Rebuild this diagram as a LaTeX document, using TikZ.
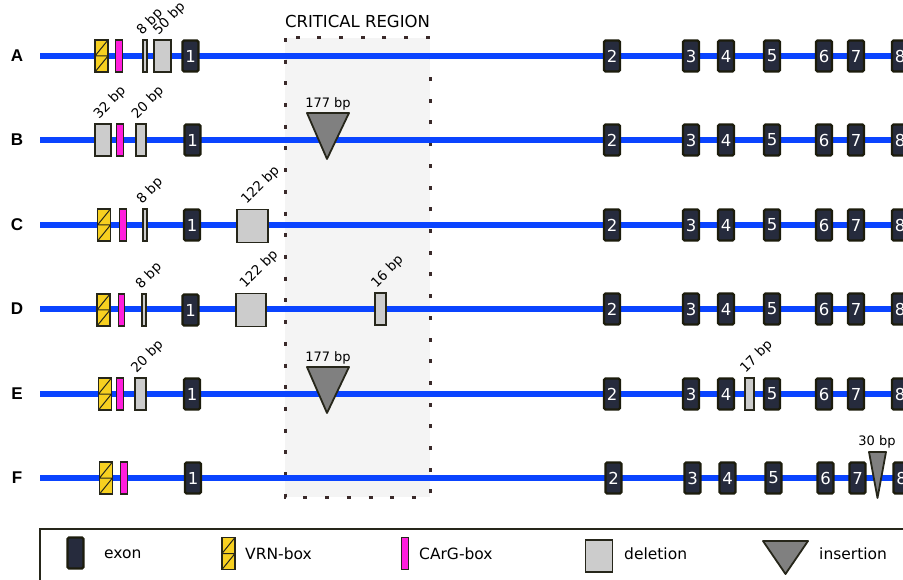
\documentclass[tikz,border=0pt]{standalone}
\usepackage{fontspec}
\setmainfont{DejaVu Sans}
\newfontfamily\rowfont{Liberation Sans}
\usetikzlibrary{positioning}
\definecolor{dnablue}{HTML}{0A44FF}
\definecolor{exonfill}{HTML}{262B3D}
\definecolor{exonline}{HTML}{1C1C0C}
\definecolor{vrnfill}{HTML}{F7D020}
\definecolor{cargfill}{HTML}{FF1EDC}
\definecolor{delfill}{HTML}{CCCCCC}
\definecolor{insfill}{HTML}{808080}
\definecolor{boxline}{HTML}{26261A}
\definecolor{regionfill}{HTML}{F4F4F4}
\definecolor{regionline}{HTML}{3A2A2A}

\tikzset{
  dnaline/.style={dnablue,line width=5.5pt},
  rowname/.style={font=\rowfont\bfseries\fontsize{17}{20}\selectfont},
  exon/.style={draw=exonline,fill=exonfill,line width=2.2pt,rounded corners=1.5pt,
    minimum width=16pt,minimum height=31pt,inner sep=0pt,text=white,
    font=\fontsize{16.5}{18}\selectfont},
  vrn/.style={draw=boxline,fill=vrnfill,line width=1.4pt,minimum width=13pt,
    minimum height=32pt,inner sep=0pt,
    path picture={\draw[boxline,line width=1pt]
      (path picture bounding box.north east) -- (path picture bounding box.west)
      -- (path picture bounding box.east) -- (path picture bounding box.south west);}},
  carg/.style={draw=boxline,fill=cargfill,line width=1.2pt,minimum width=6.5pt,
    minimum height=32pt,inner sep=0pt},
  del/.style={draw=boxline,fill=delfill,line width=1.8pt,minimum height=32pt,inner sep=0pt},
  ins/.style={draw=boxline,fill=insfill,line width=1.8pt,line join=round},
  bp/.style={font=\fontsize{13}{15}\selectfont,inner sep=1pt},
  bpturn/.style={bp,font=\fontsize{13.5}{15}\selectfont,inner sep=0.5pt,rotate=45,anchor=south west},
  legtext/.style={font=\fontsize{15.5}{18}\selectfont,anchor=west,inner sep=0pt}
}

\begin{document}
\begin{tikzpicture}[x=1pt,y=-1pt]
  \clip (0,0) rectangle (903,580);

  % critical region
  \draw[regionline,fill=regionfill,line width=3pt,dash pattern=on 4pt off 17.7pt]
    (285,38) rectangle (430,497);
  \node[font=\fontsize{16.5}{20}\selectfont] (crit) at (357.5,21) {CRITICAL REGION};

  % the six lines with exons 2-8
  \foreach \r/\y/\dx in {A/56/0,B/140/0,C/225/0,D/309/0,E/394/0,F/478/1.5} {
    \coordinate (\r-start) at (40,\y);
    \coordinate (\r-end) at (910,\y);
    \draw[dnaline] (\r-start) -- (\r-end);
    \node[rowname] (\r) at (17,\y) {\r};
    \foreach \n/\x in {2/612,3/691,4/726,5/772,6/824,7/856,8/900}
      \node[exon] (\r-\n) at (\x+\dx,\y) {\n};
  }

  % A
  \node[vrn] (A-vrn) at (101.5,56) {};
  \node[carg] (A-carg) at (119,56) {};
  \node[del,minimum width=4.5pt] (A-d8) at (145,56) {};
  \node[del,minimum width=17pt] (A-d50) at (162.5,56) {};
  \node[exon] (A-1) at (190.5,56) {1};
  \node[bpturn] at ([xshift=-1pt,yshift=1pt]A-d8.north) {8 bp};
  \node[bpturn] at ([xshift=-2pt,yshift=1pt]A-d50.north) {50 bp};

  % B
  \node[del,minimum width=16pt] (B-d32) at (103,140) {};
  \node[carg] (B-carg) at (120,140) {};
  \node[del,minimum width=10pt] (B-d20) at (141,140) {};
  \node[exon] (B-1) at (192.5,140) {1};
  \node[bpturn] at ([xshift=-2pt,yshift=1pt]B-d32.north) {32 bp};
  \node[bpturn] at ([xshift=-2pt,yshift=1pt]B-d20.north) {20 bp};
  \draw[ins] (307,113) -- (349,113) -- (327,159) -- cycle;
  \node[bp] (B-i177) at (328,104) {177 bp};

  % C
  \node[vrn] (C-vrn) at (104,225) {};
  \node[carg] (C-carg) at (123,225) {};
  \node[del,minimum width=4.5pt] (C-d8) at (145,225) {};
  \node[exon] (C-1) at (192,225) {1};
  \node[del,minimum width=31pt,minimum height=33pt] (C-d122) at (252.5,226) {};
  \node[bpturn] at ([xshift=-1pt,yshift=1pt]C-d8.north) {8 bp};
  \node[bpturn] at ([xshift=-4pt,yshift=1pt]C-d122.north) {122 bp};

  % D
  \node[vrn] (D-vrn) at (103.5,310) {};
  \node[carg] (D-carg) at (121.5,310) {};
  \node[del,minimum width=4.5pt] (D-d8) at (144,310) {};
  \node[exon] (D-1) at (190.5,310) {1};
  \node[del,minimum width=30pt,minimum height=33pt] (D-d122) at (251,310) {};
  \node[del,minimum width=11pt] (D-d16) at (380.5,309) {};
  \node[bpturn] at ([xshift=-1pt,yshift=1pt]D-d8.north) {8 bp};
  \node[bpturn] at ([xshift=-4pt,yshift=1pt]D-d122.north) {122 bp};
  \node[bpturn] at ([xshift=-2pt,yshift=1pt]D-d16.north) {16 bp};

  % E
  \node[vrn] (E-vrn) at (105,394) {};
  \node[carg] (E-carg) at (120,394) {};
  \node[del,minimum width=11pt] (E-d20) at (140.5,394) {};
  \node[exon] (E-1) at (192,394) {1};
  \node[del,minimum width=9pt] (E-d17) at (749.5,394) {};
  \node[bpturn] at ([xshift=-2pt,yshift=1pt]E-d20.north) {20 bp};
  \node[bpturn] at ([xshift=-2pt,yshift=1pt]E-d17.north) {17 bp};
  \draw[ins] (307,367) -- (349,367) -- (327,413) -- cycle;
  \node[bp] (E-i177) at (328,358) {177 bp};

  % F
  \node[vrn] (F-vrn) at (106,478) {};
  \node[carg] (F-carg) at (124,478) {};
  \node[exon] (F-1) at (193,478) {1};
  \draw[ins] (869,452) -- (886,452) -- (877.5,498) -- cycle;
  \node[bp] (F-i30) at (877,442) {30 bp};

  % legend
  \draw[boxline,line width=1.2pt] (40,529) rectangle (920,600);
  \node[exon] (key-exon) at (75.5,553) {};
  \node[legtext] (key-exon-t) at (104,554) {exon};
  \node[vrn] (key-vrn) at (228.5,553.5) {};
  \node[legtext] (key-vrn-t) at (245,554) {VRN-box};
  \node[carg] (key-carg) at (405,553.5) {};
  \node[legtext] (key-carg-t) at (419,554) {CArG-box};
  \node[del,minimum width=27pt] (key-del) at (599,556) {};
  \node[legtext] (key-del-t) at (624,554) {deletion};
  \draw[ins] (763,541) -- (808,541) -- (785.5,574) -- cycle;
  \node[legtext] (key-ins-t) at (819,554) {insertion};
\end{tikzpicture}
\end{document}
